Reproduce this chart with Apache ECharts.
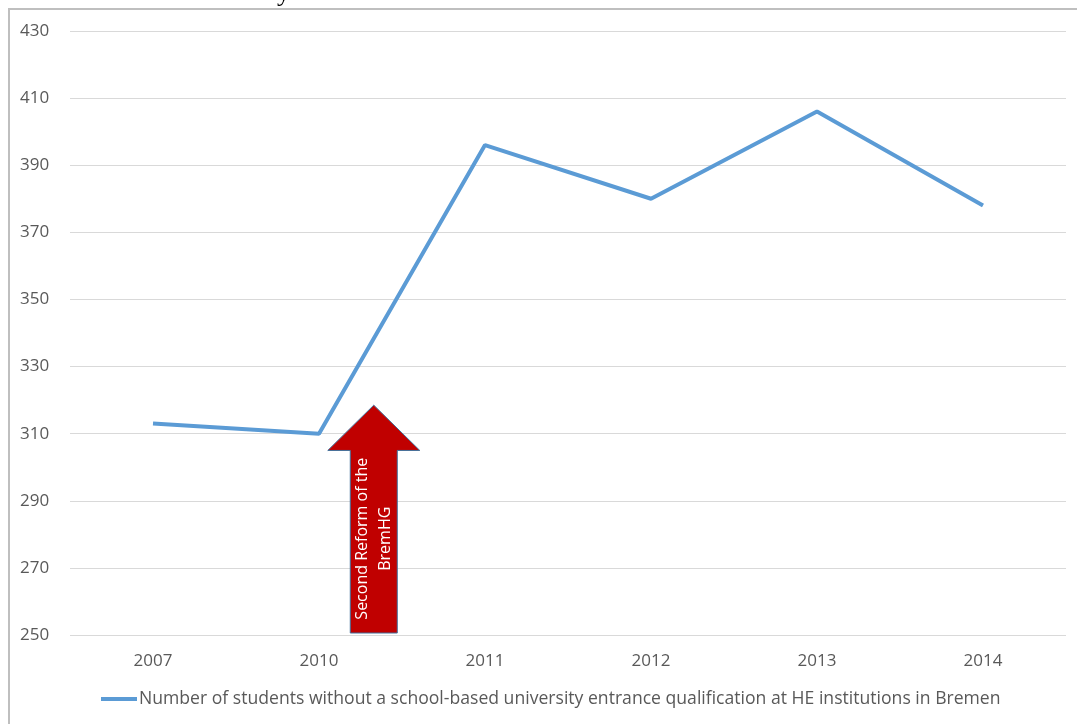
<!DOCTYPE html>
<html><head><meta charset="utf-8">
<script src="https://cdn.jsdelivr.net/npm/echarts@6/dist/echarts.min.js"></script>
<style>html,body{margin:0;padding:0;background:#fff}#c{width:1077px;height:724px}</style>
</head><body><div id="c"></div>
<script>
const categories = ['2007','2010','2011','2012','2013','2014'];
const students = [313, 310, 396, 380, 406, 378];
const seriesName = 'Number of students without a school-based university entrance qualification at HE institutions in Bremen';
const arrowLabel = 'Second Reform of the\nBremHG';
// annotation anchor: fraction of the way from 2010 to 2011, and value range
const arrowFrac = 0.33, arrowTip = 318.5, arrowHeadBase = 305, arrowBottom = 250;

const font = 'Open Sans';
const chart = echarts.init(document.getElementById('c'));
chart.setOption({
  animation: false,
  grid: {left: 70, right: 11, top: 31, bottom: 89, containLabel: false},
  xAxis: {
    type: 'category', data: categories, boundaryGap: true,
    axisLine: {show: false}, axisTick: {show: false},
    axisLabel: {color: '#595959', fontSize: 17, fontFamily: font, margin: 18}
  },
  yAxis: {
    type: 'value', min: 250, max: 430, interval: 20,
    axisLine: {show: false}, axisTick: {show: false},
    axisLabel: {color: '#595959', fontSize: 17, fontFamily: font, align: 'left', margin: 50},
    splitLine: {lineStyle: {color: '#D9D9D9', width: 1}}
  },
  legend: {
    bottom: 11, left: 96, icon: 'rect', itemWidth: 36, itemHeight: 4, itemGap: 4,
    textStyle: {color: '#595959', fontSize: 17.6, fontFamily: font, padding: [0,0,0,-3]},
    data: [seriesName]
  },
  series: [{
    name: seriesName, type: 'line', data: students, symbol: 'none',
    lineStyle: {color: '#5B9BD5', width: 4}, itemStyle: {color: '#5B9BD5'}
  }]
});

const a = chart.convertToPixel({gridIndex: 0}, [1, arrowTip]);
const b = chart.convertToPixel({gridIndex: 0}, [2, arrowTip]);
const cx = a[0] + (b[0] - a[0]) * arrowFrac;
const ty = a[1];
const hy = chart.convertToPixel({yAxisIndex: 0}, arrowHeadBase);
const by = chart.convertToPixel({yAxisIndex: 0}, arrowBottom) - 2;
const hw = 46, sw = 23.5;
chart.setOption({
  graphic: [
    {type: 'rect', shape: {x: 9, y: 9, width: 1200, height: 900}, style: {fill: 'none', stroke: '#BFBFBF', lineWidth: 2}, silent: true, z: 0},
    {type: 'text', x: 277, y: -19, style: {text: 'y', font: '26px "Liberation Serif"', fill: '#000'}},
    {type: 'polygon', shape: {points: [
      [cx, ty], [cx + hw, hy], [cx + sw, hy], [cx + sw, by],
      [cx - sw, by], [cx - sw, hy], [cx - hw, hy]
    ]}, style: {fill: '#C00000', stroke: '#41719C', lineWidth: 1}, z: 10},
    {type: 'text', x: cx, y: (hy + by) / 2 - 3, rotation: Math.PI / 2,
     style: {text: arrowLabel, font: '16px "Open Sans"', fill: '#fff', align: 'center', verticalAlign: 'middle', lineHeight: 23}, z: 11}
  ]
});
</script></body></html>
